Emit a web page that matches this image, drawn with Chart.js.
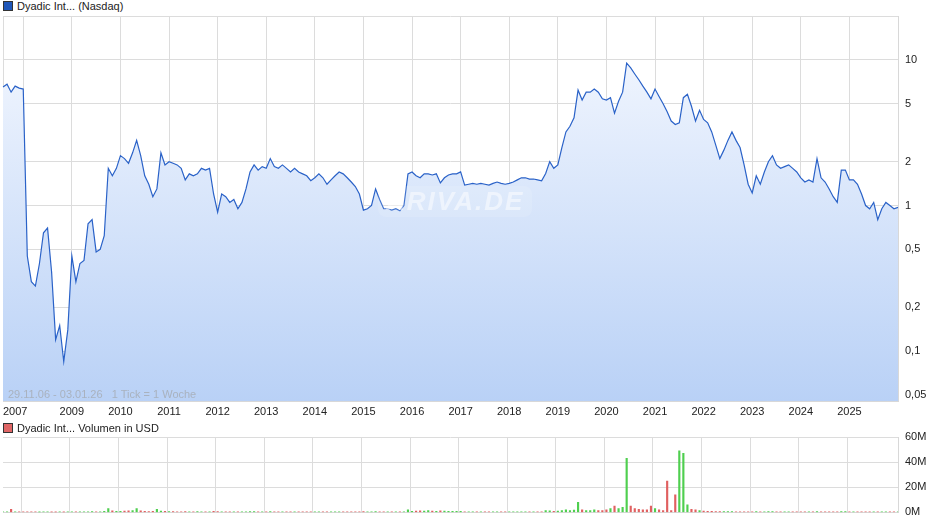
<!DOCTYPE html>
<html>
<head>
<meta charset="utf-8">
<script src="https://cdn.jsdelivr.net/npm/chart.js@4/dist/chart.umd.min.js"></script>
<style>
	body { margin: 0; background: #fff; font-family: 'Liberation Sans', Arial, sans-serif; }
	#wrap { position: relative; width: 940px; height: 526px; }
	.legend { position: absolute; left: 3px; font-size: 11px; color: #222; }
	.legend i { display: inline-block; width: 8px; height: 8px; margin-right: 4px; vertical-align: -1px; border: 1px solid #333; }
	#note { position: absolute; left: 8px; top: 388px; font-size: 11px; color: #a9b2bf; }
	#wm { position: absolute; left: 378px; top: 186px; padding: 0 8px; border-radius: 8px; background: rgba(255,255,255,0.12); font-size: 26px; font-style: italic; font-weight: bold; color: rgba(255,255,255,0.5); letter-spacing: 2px; }
</style>
</head>
<body>
<div id="wrap">
	<div class="legend" style="top:0px"><i style="background:#1f56b8"></i>Dyadic Int... (Nasdaq)</div>
	<div style="position:absolute;left:0;top:0;width:940px;height:421px"><canvas id="price"></canvas></div>
	<div id="wm">ARIVA.DE</div>
	<div id="note">29.11.06 - 03.01.26 &nbsp; 1 Tick = 1 Woche</div>
	<div class="legend" style="top:422px"><i style="background:#e06666"></i>Dyadic Int... Volumen in USD</div>
	<div style="position:absolute;left:0;top:420px;width:940px;height:106px"><canvas id="vol"></canvas></div>
</div>
<script>
	// Period labels (2007 sparse, then monthly).
	const months07 = ['2007-01', '2007-03', '2007-05', '2007-08', '2007-11'];
	const years = [];
	for (let y = 2008; y <= 2025; y++) years.push(y);

	// Price (USD), per year.
	const price07 = [6.5, 6.8, 6.0, 6.6, 6.4];
	const price08 = [6.3, 0.45, 0.3, 0.28, 0.4, 0.65, 0.7, 0.35, 0.12, 0.15, 0.085, 0.14];
	const price09 = [0.45, 0.3, 0.4, 0.42, 0.75, 0.8, 0.48, 0.5, 0.62, 1.8, 1.6, 1.8];
	const price10 = [2.2, 2.1, 1.95, 2.3, 2.8, 2.2, 1.6, 1.4, 1.15, 1.3, 2.3, 1.9];
	const price11 = [2.0, 1.95, 1.9, 1.8, 1.5, 1.65, 1.6, 1.65, 1.8, 1.75, 1.8, 1.2];
	const price12 = [0.9, 1.2, 1.15, 1.05, 1.1, 0.95, 1.05, 1.3, 1.7, 1.9, 1.75, 1.85];
	const price13 = [1.8, 2.1, 1.85, 1.8, 1.9, 1.8, 1.7, 1.8, 1.7, 1.65, 1.6, 1.48];
	const price14 = [1.55, 1.65, 1.55, 1.4, 1.5, 1.6, 1.7, 1.65, 1.55, 1.45, 1.35, 1.2];
	const price15 = [0.93, 0.95, 1.0, 1.3, 1.1, 0.95, 0.95, 0.93, 0.95, 0.92, 1.0, 1.65];
	const price16 = [1.7, 1.6, 1.55, 1.65, 1.65, 1.62, 1.65, 1.43, 1.55, 1.62, 1.65, 1.65];
	const price17 = [1.7, 1.38, 1.4, 1.42, 1.4, 1.42, 1.4, 1.38, 1.42, 1.45, 1.42, 1.4];
	const price18 = [1.42, 1.45, 1.5, 1.55, 1.55, 1.52, 1.52, 1.5, 1.48, 1.66, 2.0, 1.8];
	const price19 = [1.9, 2.5, 3.2, 3.5, 4.0, 6.2, 5.3, 6.0, 6.0, 6.3, 6.0, 5.4];
	const price20 = [5.3, 5.5, 4.3, 5.2, 6.0, 9.5, 8.8, 8.0, 7.3, 6.6, 6.0, 5.4];
	const price21 = [6.3, 5.6, 5.0, 4.4, 3.8, 3.6, 3.7, 5.5, 5.8, 4.8, 3.8, 4.5];
	const price22 = [3.9, 3.7, 3.2, 2.6, 2.1, 2.4, 2.8, 3.2, 2.8, 2.5, 1.9, 1.4];
	const price23 = [1.22, 1.6, 1.4, 1.7, 2.0, 2.2, 1.9, 1.8, 1.85, 1.9, 1.8, 1.7];
	const price24 = [1.55, 1.45, 1.5, 1.45, 2.1, 1.55, 1.45, 1.3, 1.15, 1.05, 1.75, 1.75];
	const price25 = [1.5, 1.5, 1.4, 1.2, 1.0, 0.95, 1.05, 0.8, 0.95, 1.05, 1.0, 0.95];
	const price26 = [0.97];

	// Volume (million USD), per year.
	const vol07 = [0.3, 0.4, 2.5, 0.3, 0.3];
	const vol08 = [0.3, 0.4, 0.3, 0.3, 0.2, 0.3, 0.3, 0.2, 0.2, 0.3, 0.2, 0.3];
	const vol09 = [0.3, 0.3, 0.4, 0.3, 0.5, 0.6, 0.4, 0.5, 0.8, 3.0, 1.2, 0.8];
	const vol10 = [0.9, 1.0, 1.2, 1.5, 3.0, 1.2, 0.8, 0.7, 0.9, 2.5, 1.0, 0.8];
	const vol11 = [0.6, 0.6, 0.5, 0.5, 0.6, 0.5, 0.5, 0.6, 0.5, 0.5, 0.5, 0.8];
	const vol12 = [0.6, 0.5, 0.5, 0.4, 0.5, 0.5, 0.4, 0.5, 0.6, 0.6, 0.5, 0.5];
	const vol13 = [0.5, 0.6, 0.5, 0.5, 0.5, 0.4, 0.4, 0.5, 0.4, 0.4, 0.4, 0.4];
	const vol14 = [0.4, 0.5, 0.4, 0.4, 0.4, 0.5, 0.5, 0.4, 0.4, 0.4, 0.4, 0.5];
	const vol15 = [0.6, 0.5, 0.5, 0.6, 0.5, 0.5, 0.4, 0.4, 0.4, 0.4, 0.5, 2.0];
	const vol16 = [0.9, 1.0, 1.2, 1.0, 1.5, 1.0, 0.9, 1.2, 1.0, 0.9, 0.8, 0.8];
	const vol17 = [0.8, 0.5, 0.4, 0.4, 0.4, 0.4, 0.4, 0.4, 0.4, 0.4, 0.4, 0.4];
	const vol18 = [0.4, 0.4, 0.4, 0.4, 0.4, 0.4, 0.4, 0.4, 0.5, 1.5, 1.2, 0.8];
	const vol19 = [1.0, 1.5, 2.0, 1.5, 1.8, 8.0, 2.0, 1.5, 1.5, 2.0, 1.5, 1.5];
	const vol20 = [2.0, 3.0, 5.0, 3.0, 4.0, 43.0, 5.0, 3.0, 2.5, 2.0, 2.0, 5.0];
	const vol21 = [3.0, 2.0, 1.5, 25.0, 1.5, 14.0, 49.0, 47.0, 6.0, 2.5, 2.0, 1.5];
	const vol22 = [1.0, 0.8, 0.8, 0.7, 0.6, 0.6, 0.6, 0.6, 0.5, 0.5, 0.5, 0.5];
	const vol23 = [0.5, 0.6, 0.5, 0.5, 0.6, 0.6, 0.5, 0.5, 0.5, 0.5, 0.5, 0.5];
	const vol24 = [0.5, 0.5, 0.5, 0.5, 0.7, 0.5, 0.5, 0.5, 0.5, 0.5, 0.6, 0.6];
	const vol25 = [0.5, 0.5, 0.5, 0.5, 0.5, 0.5, 0.5, 0.5, 0.5, 0.5, 0.5, 0.5];
	const vol26 = [0.4];

	// Tick labels on the value axes.
	const priceTicks = [0.05, 0.1, 0.2, 0.5, 1, 2, 5, 10, 20];
	const volTicks = [0, 20, 40, 60];

	const labels = months07.slice();
	years.forEach(function(y) {
		for (let m = 1; m <= 12; m++) labels.push(y + '-' + String(m).padStart(2, '0'));
	});
	labels.push('2026-01');

	const prices = [].concat(price07, price08, price09, price10, price11, price12, price13, price14,
		price15, price16, price17, price18, price19, price20, price21, price22, price23, price24, price25, price26);
	const volumes = [].concat(vol07, vol08, vol09, vol10, vol11, vol12, vol13, vol14,
		vol15, vol16, vol17, vol18, vol19, vol20, vol21, vol22, vol23, vol24, vol25, vol26);
	const volColors = prices.map(function(p, i) {
		return i > 0 && p < prices[i - 1] ? '#e06060' : '#4fcf4f';
	});

	function isYearStart(i) {
		const l = labels[i];
		return l && l.endsWith('-01') && i < labels.length - 1;
	}
	const font = { family: "'Liberation Sans', Arial, sans-serif", size: 11 };

	const xAxis = function(showLabels) {
		return {
			type: 'category',
			offset: false,
			border: { color: '#d8d8d8' },
			grid: {
				drawTicks: false,
				color: function(ctx) { return isYearStart(ctx.index) ? '#dcdcdc' : 'transparent'; }
			},
			ticks: {
				display: showLabels,
				autoSkip: false,
				maxRotation: 0,
				align: 'inner',
				padding: 4,
				color: '#222',
				font: font,
				callback: function(v, i) {
					if (!isYearStart(i) || labels[i] === '2008-01') return '';
					return labels[i].slice(0, 4);
				}
			},
			afterFit: function(s) {
				s.height = showLabels ? 20 : 10;
				s.paddingLeft = 0;
				s.paddingRight = 0;
			}
		};
	};

	new Chart(document.getElementById('price'), {
		type: 'line',
		data: {
			labels: labels,
			datasets: [{
				data: prices,
				borderColor: '#2a62c8',
				borderWidth: 1.2,
				pointRadius: 0,
				tension: 0,
				fill: 'start',
				backgroundColor: function(ctx) {
					const a = ctx.chart.chartArea;
					if (!a) return '#dce8fb';
					const g = ctx.chart.ctx.createLinearGradient(0, a.top, 0, a.bottom);
					g.addColorStop(0, '#f6f9ff');
					g.addColorStop(1, '#b9d1f6');
					return g;
				}
			}]
		},
		options: {
			responsive: true,
			maintainAspectRatio: false,
			animation: false,
			layout: { padding: { left: 3, top: 16, right: 0, bottom: 0 } },
			plugins: { legend: { display: false }, tooltip: { enabled: false } },
			scales: {
				x: xAxis(true),
				y: {
					type: 'logarithmic',
					position: 'right',
					min: 0.0455,
					max: 20,
					border: { color: '#d8d8d8' },
					grid: { color: '#dcdcdc', drawTicks: false },
					afterBuildTicks: function(s) { s.ticks = priceTicks.map(function(v) { return { value: v }; }); },
					ticks: {
						color: '#222',
						font: font,
						padding: 7,
						callback: function(v) { return v === 20 ? '' : String(v).replace('.', ','); }
					},
					afterFit: function(s) { s.width = 42; }
				}
			}
		}
	});

	new Chart(document.getElementById('vol'), {
		type: 'bar',
		data: {
			labels: labels,
			datasets: [{
				data: volumes,
				backgroundColor: volColors,
				barThickness: 1.5
			}]
		},
		options: {
			responsive: true,
			maintainAspectRatio: false,
			animation: false,
			layout: { padding: { left: 3, top: 17, right: 0, bottom: 0 } },
			plugins: { legend: { display: false }, tooltip: { enabled: false } },
			scales: {
				x: xAxis(false),
				y: {
					position: 'right',
					min: 0,
					max: 60,
					border: { color: '#d8d8d8' },
					grid: { color: '#dcdcdc', drawTicks: false },
					afterBuildTicks: function(s) { s.ticks = volTicks.map(function(v) { return { value: v }; }); },
					ticks: { color: '#222', font: font, padding: 7, callback: function(v) { return v + 'M'; } },
					afterFit: function(s) { s.width = 42; }
				}
			}
		}
	});
</script>
</body>
</html>
